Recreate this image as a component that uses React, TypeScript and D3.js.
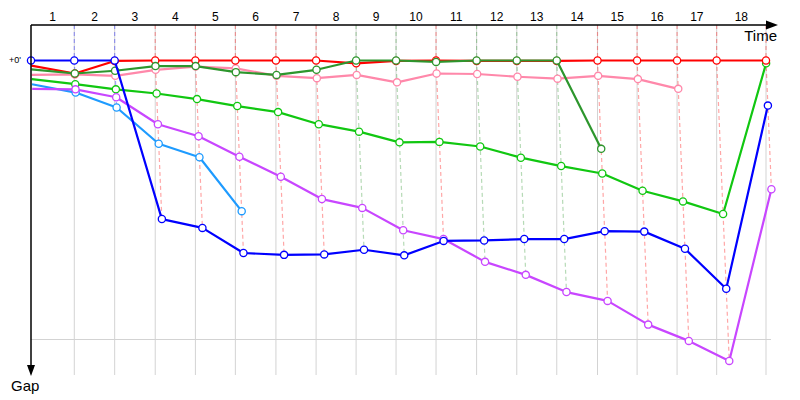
import React from "react";
import * as d3 from "d3";

// Leader's cumulative time (s) at the end of each lap (lap 0 = start)
const leaderTimes = [0, 222, 429, 637, 843, 1048, 1256, 1462, 1667, 1872, 2077, 2285, 2491, 2696, 2905, 3108, 3313, 3516, 3769];
const lapLabels = ["1", "2", "3", "4", "5", "6", "7", "8", "9", "10", "11", "12", "13", "14", "15", "16", "17", "18"];

// Gap to leader (s) at end of each lap, per car
const pinkGaps = [3.1, 3.0, 3.3, 2.0, 1.3, 1.7, 3.3, 3.8, 3.1, 4.7, 2.8, 2.9, 3.5, 3.9, 3.3, 4.0, 6.1];
const limeGaps = [4.0, 5.1, 6.2, 7.1, 8.3, 9.8, 11.1, 13.7, 15.3, 17.6, 17.5, 18.5, 20.9, 22.7, 24.3, 28.0, 30.3, 33.0, 0.6];
const lightBlueGaps = [5.1, 6.9, 10.1, 17.9, 20.8, 32.4];
const purpleGaps = [6.1, 6.2, 7.9, 13.7, 16.3, 20.7, 25.0, 29.8, 31.7, 36.5, 38.4, 43.3, 46.1, 49.8, 51.7, 56.8, 60.3, 64.6, 27.7];
const redGaps = [1.1, 2.8, 0.1, 0, 0, 0, 0, 0, 0.6, 0.1, 0, 0.1, 0.1, 0.1, 0, 0, 0, 0, 0];
const darkGreenGaps = [1.9, 2.8, 2.2, 1.2, 1.2, 2.5, 3.1, 2.0, 0, 0, 0.3, 0, 0, 0, 19.0];
const blueGaps = [0, 0, 0, 34.1, 36.0, 41.4, 41.8, 41.7, 40.7, 41.9, 38.8, 38.7, 38.4, 38.4, 36.7, 36.8, 40.5, 49.1, 9.7];

const yGridGaps = [0, 60];

const series = [
  { name: "pink", color: "#ff88aa", gaps: pinkGaps },
  { name: "lime", color: "#11c711", gaps: limeGaps },
  { name: "lightblue", color: "#1e9bff", gaps: lightBlueGaps },
  { name: "purple", color: "#c846ff", gaps: purpleGaps },
  { name: "red", color: "#ff0000", gaps: redGaps },
  { name: "darkgreen", color: "#2d962d", gaps: darkGreenGaps },
  { name: "blue", color: "#0000ff", gaps: blueGaps },
];

const W = 800;
const H = 400;
const left = 31;
const top = 25;
const bottom = 376;

export default function App() {
  const x = d3.scaleLinear().domain([0, leaderTimes[leaderTimes.length - 1]]).range([left, 766]);
  const y = d3.scaleLinear().domain([0, 60]).range([60.5, 339.5]);
  const line = d3
    .line<[number, number]>()
    .x((d) => d[0])
    .y((d) => d[1]);

  const pts = (gaps: number[]) =>
    gaps.map((g, i) => [x(leaderTimes[i] + g), y(g)] as [number, number]);

  // per-lap leader and last car for the dashed connectors
  const lapDashes = leaderTimes.slice(1).map((t, k) => {
    const i = k + 1;
    let minG = Infinity, maxG = -Infinity, col = "#ff0000";
    series.forEach((s) => {
      if (i < s.gaps.length) {
        const g = s.gaps[i];
        if (g < minG) { minG = g; col = s.color; }
        if (g > maxG) maxG = g;
      }
    });
    return { t, maxG, col };
  });

  const font = "'Liberation Sans', Arial, sans-serif";

  return (
    <svg width={W} height={H} style={{ position: "absolute", left: 0, top: 0, background: "#fff" }}>
      {/* grid verticals */}
      {leaderTimes.slice(1).map((t, i) => (
        <line key={"gv" + i} x1={x(t)} x2={x(t)} y1={top} y2={375} stroke="#d3d3d3" strokeWidth={1} />
      ))}
      {/* grid horizontal */}
      {yGridGaps.slice(1).map((g, i) => (
        <line key={"gh" + i} x1={left} x2={771} y1={y(g)} y2={y(g)} stroke="#d3d3d3" strokeWidth={1} />
      ))}
      {/* dashed lap connectors */}
      {lapDashes.map((d, i) => (
        <path
          key={"dl" + i}
          d={`M${x(d.t)},${top}L${x(d.t)},${y(0)}L${x(d.t + d.maxG)},${y(d.maxG)}`}
          fill="none"
          stroke={d.col}
          strokeOpacity={0.35}
          strokeWidth={1.2}
          strokeDasharray="4,3"
        />
      ))}
      {/* series */}
      {series.map((s) => {
        const p = pts(s.gaps);
        return (
          <g key={s.name}>
            <path d={line(p) || ""} fill="none" stroke={s.color} strokeWidth={2.2} strokeLinejoin="round" />
            {p.map((q, i) =>
              i > 0 || s.gaps[i] === 0 ? (
                <circle key={i} cx={q[0]} cy={q[1]} r={3.6} fill="#fff" stroke={s.color} strokeWidth={1.3} />
              ) : null
            )}
          </g>
        );
      })}
      {/* axes */}
      <line x1={left} x2={770} y1={top} y2={top} stroke="#000" strokeWidth={1.5} />
      <path d={`M778,${top}L766,${top - 4.5}L766,${top + 4.5}Z`} fill="#000" />
      <line x1={left} x2={left} y1={top} y2={368} stroke="#000" strokeWidth={1.5} />
      <path d={`M${left},${bottom}L${left - 4},365L${left + 4},365Z`} fill="#000" />
      {/* lap labels */}
      {lapLabels.map((l, i) => (
        <text
          key={"ll" + i}
          x={(x(leaderTimes[i]) + x(leaderTimes[i + 1])) / 2}
          y={21}
          textAnchor="middle"
          fontFamily={font}
          fontSize={12}
          fill="#000"
        >
          {l}
        </text>
      ))}
      <text x={15} y={63} textAnchor="middle" fontFamily={font} fontSize={9} fill="#000">
        +0'
      </text>
      <text x={777} y={41} textAnchor="end" fontFamily={font} fontSize={15} fill="#000">
        Time
      </text>
      <text x={11} y={391} fontFamily={font} fontSize={15} fill="#000">
        Gap
      </text>
    </svg>
  );
}
